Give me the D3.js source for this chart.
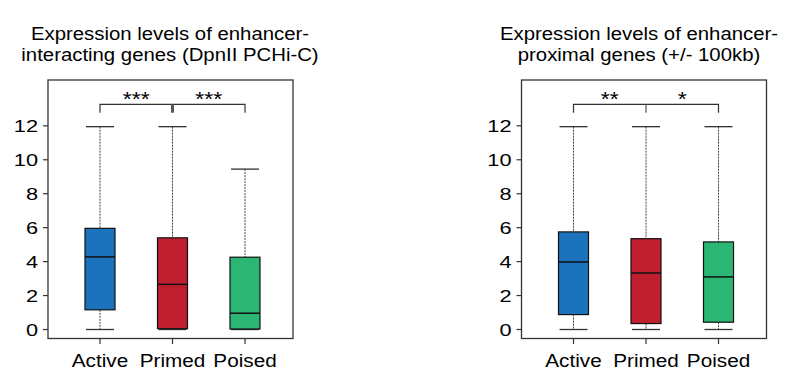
<!DOCTYPE html>
<html lang="en">
<head>
<meta charset="UTF-8">
<title>Expression levels of enhancer genes</title>
<script src="https://d3js.org/d3.v7.min.js"></script>
<style>
  body { margin: 0; background: #fff; }
  text { font-family: "Liberation Sans", Arial, sans-serif; fill: #000; }
</style>
</head>
<body>
<svg id="chart" width="796" height="386"></svg>
<script>
  // data
  const categories = ["Active", "Primed", "Poised"];
  const colors = ["#1a73bc", "#bf1f2f", "#2cb674"];
  const yTicks = [0, 2, 4, 6, 8, 10, 12];

  // left panel: DpnII PCHi-C
  const pchicLow = [0, 0, 0];
  const pchicQ1 = [1.16, 0.05, 0.03];
  const pchicMedian = [4.28, 2.66, 0.96];
  const pchicQ3 = [5.96, 5.40, 4.26];
  const pchicHigh = [11.95, 11.95, 9.45];
  const pchicStars = ["***", "***"];

  // right panel: +/- 100kb
  const proxLow = [0, 0, 0];
  const proxQ1 = [0.88, 0.35, 0.43];
  const proxMedian = [3.98, 3.33, 3.10];
  const proxQ3 = [5.75, 5.35, 5.16];
  const proxHigh = [11.95, 11.95, 11.95];
  const proxStars = ["**", "*"];

  const svg = d3.select("#chart");

  function label(g, x, y, str, size, sx, anchor) {
    g.append("text")
      .attr("transform", `translate(${x},${y}) scale(${sx},1)`)
      .attr("text-anchor", anchor || "middle")
      .style("font-size", size + "px")
      .text(str);
  }

  function panel(opt) {
    const g = svg.append("g");
    const y = d3.scaleLinear().domain([-0.53, 14.7]).range([338.5, 80]);
    const x = d3.scalePoint().domain(categories).range([opt.left + 52, opt.left + 197]);

    // title
    label(g, opt.titleX, 40, opt.title[0], 18.5, 1.1);
    label(g, opt.titleX, 60.5, opt.title[1], 18.5, 1.1);

    // frame
    g.append("rect")
      .attr("x", opt.left).attr("y", 80)
      .attr("width", 245).attr("height", 258.5)
      .attr("fill", "none").attr("stroke", "#333").attr("stroke-width", 1.3);

    // y axis ticks
    yTicks.forEach(t => {
      g.append("line")
        .attr("x1", opt.left - 5).attr("x2", opt.left)
        .attr("y1", y(t)).attr("y2", y(t))
        .attr("stroke", "#333").attr("stroke-width", 1.2);
      label(g, opt.left - 10, y(t) + 6, t, 17, 1.28, "end");
    });

    // x ticks + labels
    categories.forEach(c => {
      g.append("line")
        .attr("x1", x(c)).attr("x2", x(c))
        .attr("y1", 338.5).attr("y2", 344)
        .attr("stroke", "#333").attr("stroke-width", 1.2);
      label(g, x(c), 367, c, 18.5, 1.12);
    });

    const bw = 30, cw = 28;
    categories.forEach((c, i) => {
      const cx = x(c);
      // whiskers
      g.append("line")
        .attr("x1", cx).attr("x2", cx)
        .attr("y1", y(opt.high[i])).attr("y2", y(opt.q3[i]))
        .attr("stroke", "#444").attr("stroke-width", 1).attr("stroke-dasharray", "2,1");
      g.append("line")
        .attr("x1", cx).attr("x2", cx)
        .attr("y1", y(opt.q1[i])).attr("y2", y(opt.low[i]))
        .attr("stroke", "#444").attr("stroke-width", 1).attr("stroke-dasharray", "2,1");
      [opt.high[i], opt.low[i]].forEach(v => {
        g.append("line")
          .attr("x1", cx - cw / 2).attr("x2", cx + cw / 2)
          .attr("y1", y(v)).attr("y2", y(v))
          .attr("stroke", "#333").attr("stroke-width", 1.3);
      });
      // box
      g.append("rect")
        .attr("x", cx - bw / 2).attr("width", bw)
        .attr("y", y(opt.q3[i])).attr("height", y(opt.q1[i]) - y(opt.q3[i]))
        .attr("fill", colors[i]).attr("stroke", "#111").attr("stroke-width", 1.2);
      g.append("line")
        .attr("x1", cx - bw / 2).attr("x2", cx + bw / 2)
        .attr("y1", y(opt.median[i])).attr("y2", y(opt.median[i]))
        .attr("stroke", "#111").attr("stroke-width", 1.5);
    });

    // significance brackets
    const by = 104.3, bt = 112.7;
    const xs = categories.map(c => x(c));
    g.append("path")
      .attr("d", `M${xs[0]},${bt}V${by}H${xs[2]}V${bt}`)
      .attr("fill", "none").attr("stroke", "#333").attr("stroke-width", 1.2);
    g.append("line")
      .attr("x1", xs[1]).attr("x2", xs[1]).attr("y1", by).attr("y2", bt)
      .attr("stroke", "#555").attr("stroke-width", opt.midWidth);
    label(g, (xs[0] + xs[1]) / 2, 106, opt.stars[0], 21, 1.1);
    label(g, (xs[1] + xs[2]) / 2, 106, opt.stars[1], 21, 1.1);
  }

  panel({
    left: 48, titleX: 170,
    title: ["Expression levels of enhancer-", "interacting genes (DpnII PCHi-C)"],
    low: pchicLow, q1: pchicQ1, median: pchicMedian, q3: pchicQ3, high: pchicHigh,
    stars: pchicStars, midWidth: 3
  });
  panel({
    left: 521.5, titleX: 639,
    title: ["Expression levels of enhancer-", "proximal genes (+/- 100kb)"],
    low: proxLow, q1: proxQ1, median: proxMedian, q3: proxQ3, high: proxHigh,
    stars: proxStars, midWidth: 1.2
  });
</script>
</body>
</html>
